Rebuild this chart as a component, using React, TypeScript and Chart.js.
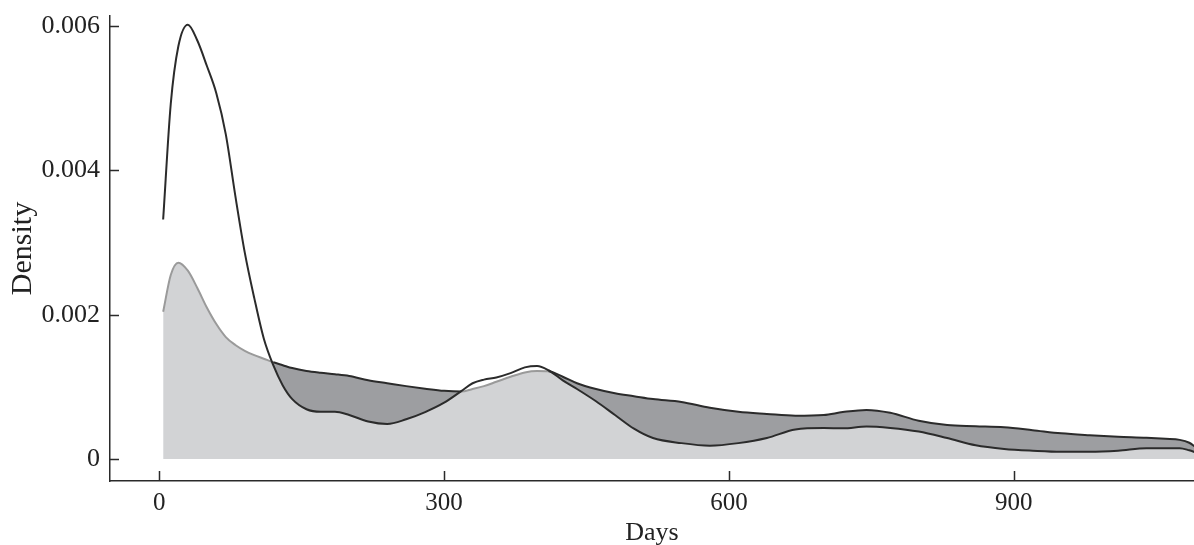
import { useEffect, useRef } from 'react';
import { Chart, registerables } from 'chart.js';

Chart.register(...registerables);

// Days (x positions of the density estimates)
const days = [4, 12, 20, 30, 40, 50, 60, 70, 80, 90, 100, 110, 120, 130, 140, 155, 170, 185, 200, 220, 240, 260, 280, 300, 318, 330, 342, 355, 370, 385, 398, 410, 425, 440, 460, 480, 500, 520, 550, 580, 610, 640, 670, 700, 720, 745, 770, 800, 830, 860, 890, 920, 950, 980, 1010, 1040, 1060, 1075, 1085, 1092];

// Dark curve (tall early peak)
const densityA = [0.00332, 0.00492, 0.00572, 0.00602, 0.0058, 0.00545, 0.00507, 0.0045, 0.00365, 0.00286, 0.00223, 0.00167, 0.0013, 0.00102, 0.00083, 0.00069, 0.000655, 0.000655, 0.00061, 0.00052, 0.000485, 0.00055, 0.00065, 0.00078, 0.00094, 0.00105, 0.0011, 0.00113, 0.00119, 0.00127, 0.00129, 0.00123, 0.00109, 0.00097, 0.0008, 0.00061, 0.00042, 0.00029, 0.00022, 0.000185, 0.00022, 0.00029, 0.00041, 0.00043, 0.000425, 0.00045, 0.00043, 0.00038, 0.00029, 0.00019, 0.00014, 0.000115, 0.0001, 0.0001, 0.000115, 0.00015, 0.00015, 0.00015, 0.00012, 0.00009];

// Grey curve (shaded)
const densityB = [0.00204, 0.00255, 0.00272, 0.00261, 0.00237, 0.0021, 0.00187, 0.00169, 0.00158, 0.0015, 0.00144, 0.00139, 0.00134, 0.0013, 0.00126, 0.00122, 0.001195, 0.001175, 0.00115, 0.00109, 0.00105, 0.00101, 0.000975, 0.000945, 0.000935, 0.00097, 0.00101, 0.00107, 0.00114, 0.0012, 0.00122, 0.001215, 0.00114, 0.00105, 0.00097, 0.00091, 0.00087, 0.00083, 0.00079, 0.00071, 0.000655, 0.000625, 0.0006, 0.00061, 0.00065, 0.00068, 0.00064, 0.00053, 0.00047, 0.000455, 0.00044, 0.0004, 0.000356, 0.00033, 0.00031, 0.000295, 0.00028, 0.000265, 0.000225, 0.00016];

const xTicks = [0, 300, 600, 900];
const yTicks = [0, 0.002, 0.004, 0.006];

const LIGHT = '#d2d3d5';
const DARK_FILL = '#9d9ea1';
const LINE_DARK = '#2b2b2b';
const LINE_GREY = '#9a9a9a';
const AXIS = '#2a2a2a';
const FONT = "'Liberation Serif', 'Times New Roman', serif";

const pts = (ys: number[]) => days.map((d, i) => ({ x: d, y: ys[i] }));

const innerTicks = {
  id: 'innerTicks',
  afterDraw(chart: any) {
    const { ctx, chartArea, scales } = chart;
    ctx.save();
    ctx.strokeStyle = AXIS;
    ctx.lineWidth = 1.5;
    ctx.beginPath();
    for (const v of xTicks) {
      const px = Math.round(scales.x.getPixelForValue(v)) + 0.5;
      ctx.moveTo(px, chartArea.bottom);
      ctx.lineTo(px, chartArea.bottom - 10);
    }
    for (const v of yTicks) {
      const py = Math.round(scales.y.getPixelForValue(v)) + 0.5;
      ctx.moveTo(chartArea.left, py);
      ctx.lineTo(chartArea.left + 9, py);
    }
    ctx.stroke();
    ctx.restore();
  },
};

export default function App() {
  const ref = useRef<HTMLCanvasElement | null>(null);

  useEffect(() => {
    document.body.style.margin = '0';
    if (!ref.current) return;
    const chart = new Chart(ref.current, {
      type: 'line',
      data: {
        datasets: [
          {
            data: pts(densityB),
            fill: 'origin',
            backgroundColor: LIGHT,
            borderWidth: 0,
            pointRadius: 0,
            cubicInterpolationMode: 'monotone',
            order: 4,
          },
          {
            data: pts(densityB),
            fill: { target: 2, above: DARK_FILL, below: 'rgba(0,0,0,0)' },
            borderWidth: 0,
            pointRadius: 0,
            cubicInterpolationMode: 'monotone',
            order: 3,
          },
          {
            data: pts(densityA),
            fill: false,
            borderColor: LINE_DARK,
            borderWidth: 2,
            pointRadius: 0,
            cubicInterpolationMode: 'monotone',
            order: 1,
          },
          {
            data: pts(densityB),
            fill: false,
            borderColor: LINE_GREY,
            borderWidth: 2,
            pointRadius: 0,
            cubicInterpolationMode: 'monotone',
            order: 2,
            segment: {
              borderColor: (c: any) => {
                const i0 = c.p0DataIndex;
                const i1 = c.p1DataIndex;
                return densityB[i0] + densityB[i1] > densityA[i0] + densityA[i1] ? LINE_DARK : LINE_GREY;
              },
            },
          },
        ],
      },
      options: {
        responsive: false,
        animation: false,
        events: [],
        layout: { padding: { top: 16, left: 0, right: 0, bottom: 0 } },
        plugins: { legend: { display: false }, tooltip: { enabled: false } },
        scales: {
          x: {
            type: 'linear',
            min: -52,
            max: 1090,
            grid: { display: false, drawTicks: false },
            border: { display: true, color: AXIS, width: 1.5 },
            afterBuildTicks: (s: any) => {
              s.ticks = xTicks.map((v) => ({ value: v }));
            },
            afterFit: (s: any) => {
              s.height = 64;
              s.paddingLeft = 0;
              s.paddingRight = 0;
            },
            ticks: {
              padding: 10,
              color: '#222',
              font: { family: FONT, size: 25, lineHeight: 1 },
              callback: (v: any) => String(v),
              maxRotation: 0,
            },
            title: {
              display: true,
              text: 'Days',
              color: '#222',
              font: { family: FONT, size: 26, lineHeight: 1 },
              padding: { top: 0, bottom: -1 },
            },
          },
          y: {
            type: 'linear',
            min: -0.000305,
            max: 0.00614,
            grid: { display: false, drawTicks: false },
            border: { display: true, color: AXIS, width: 1.5 },
            afterBuildTicks: (s: any) => {
              s.ticks = yTicks.map((v) => ({ value: v }));
            },
            afterFit: (s: any) => {
              s.width = 110;
              s.paddingTop = 0;
              s.paddingBottom = 0;
            },
            ticks: {
              padding: 10,
              color: '#222',
              font: { family: FONT, size: 26, lineHeight: 1 },
              callback: (v: any) => (v === 0 ? '0' : Number(v).toFixed(3)),
            },
            title: {
              display: true,
              text: 'Density',
              color: '#222',
              font: { family: FONT, size: 30, lineHeight: 1 },
              padding: { top: 8, bottom: 0 },
            },
          },
        },
      },
      plugins: [innerTicks],
    });
    return () => chart.destroy();
  }, []);

  return (
    <div style={{ width: 1194, height: 545 }}>
      <canvas ref={ref} width={1194} height={545} />
    </div>
  );
}
